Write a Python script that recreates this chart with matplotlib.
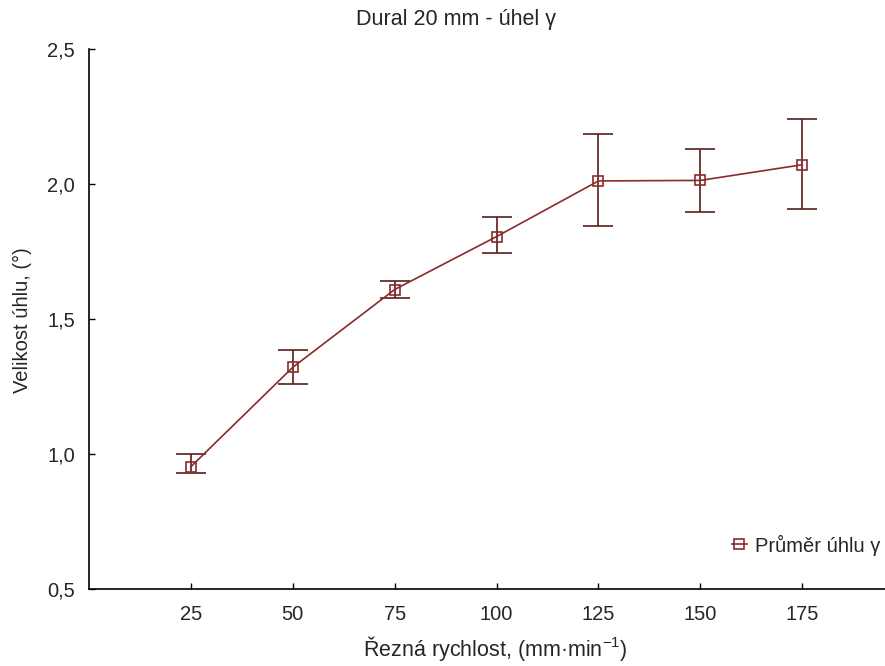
import matplotlib

matplotlib.use("Agg")
import matplotlib.pyplot as plt

plt.rcParams["font.family"] = ["Liberation Sans", "DejaVu Sans"]
plt.rcParams["mathtext.fontset"] = "custom"
plt.rcParams["mathtext.rm"] = "Liberation Sans"
plt.rcParams["mathtext.it"] = "Liberation Sans"

# Data
rychlost = [25, 50, 75, 100, 125, 150, 175]
prumer = [0.954, 1.322, 1.610, 1.806, 2.012, 2.014, 2.072]
horni = [1.000, 1.387, 1.642, 1.878, 2.186, 2.130, 2.243]
dolni = [0.930, 1.260, 1.580, 1.747, 1.847, 1.897, 1.908]

x_ticks = [25, 50, 75, 100, 125, 150, 175]
y_ticks = [0.5, 1.0, 1.5, 2.0, 2.5]
y_labels = ["0,5", "1,0", "1,5", "2,0", "2,5"]

BARVA_CARA = "#8b2a2a"
BARVA_CHYBA = "#5a1c1c"
BARVA_TEXT = "#262626"

fig = plt.figure(figsize=(8.85, 6.66), dpi=100)
ax = fig.add_axes([0.1006, 0.1152, 0.921, 0.811])

yerr = [[p - d for p, d in zip(prumer, dolni)], [h - p for h, p in zip(horni, prumer)]]
ax.errorbar(rychlost, prumer, yerr=yerr, fmt="none", ecolor=BARVA_CHYBA,
            elinewidth=1.2, capsize=11, capthick=1.2, zorder=2)
ax.plot(rychlost, prumer, "-s", color=BARVA_CARA, linewidth=1.2,
        markersize=7.5, markerfacecolor="none", markeredgecolor=BARVA_CARA,
        markeredgewidth=1.2, label="Průměr úhlu γ", zorder=3)

ax.set_xlim(0, 200)
ax.set_ylim(0.5, 2.5)
ax.set_xticks(x_ticks)
ax.set_yticks(y_ticks)
ax.set_yticklabels(y_labels)
ax.tick_params(direction="in", length=4, width=1, labelsize=14.5, colors="black",
               labelcolor=BARVA_TEXT)
ax.tick_params(axis="x", pad=11)
ax.tick_params(axis="y", pad=10)
for s in ["top", "right"]:
    ax.spines[s].set_visible(False)
for s in ["left", "bottom"]:
    ax.spines[s].set_linewidth(1.2)

leg = ax.legend(loc="center left", bbox_to_anchor=(0.776, 0.082), frameon=False,
                fontsize=14.5, handlelength=0.75, handletextpad=0.4, borderpad=0)
for t in leg.get_texts():
    t.set_color(BARVA_TEXT)

fig.text(0.515, 0.971, "Dural 20 mm - úhel γ", ha="center", va="center",
         fontsize=15.5, color=BARVA_TEXT)
fig.text(0.56, 0.026, "Řezná rychlost, (mm·min$^{-1}$)", ha="center", va="center",
         fontsize=15.5, color=BARVA_TEXT)
fig.text(0.025, 0.52, "Velikost úhlu, (°)", ha="center", va="center", rotation=90,
         fontsize=14.5, color=BARVA_TEXT)

fig.savefig("out.png", dpi=100)
